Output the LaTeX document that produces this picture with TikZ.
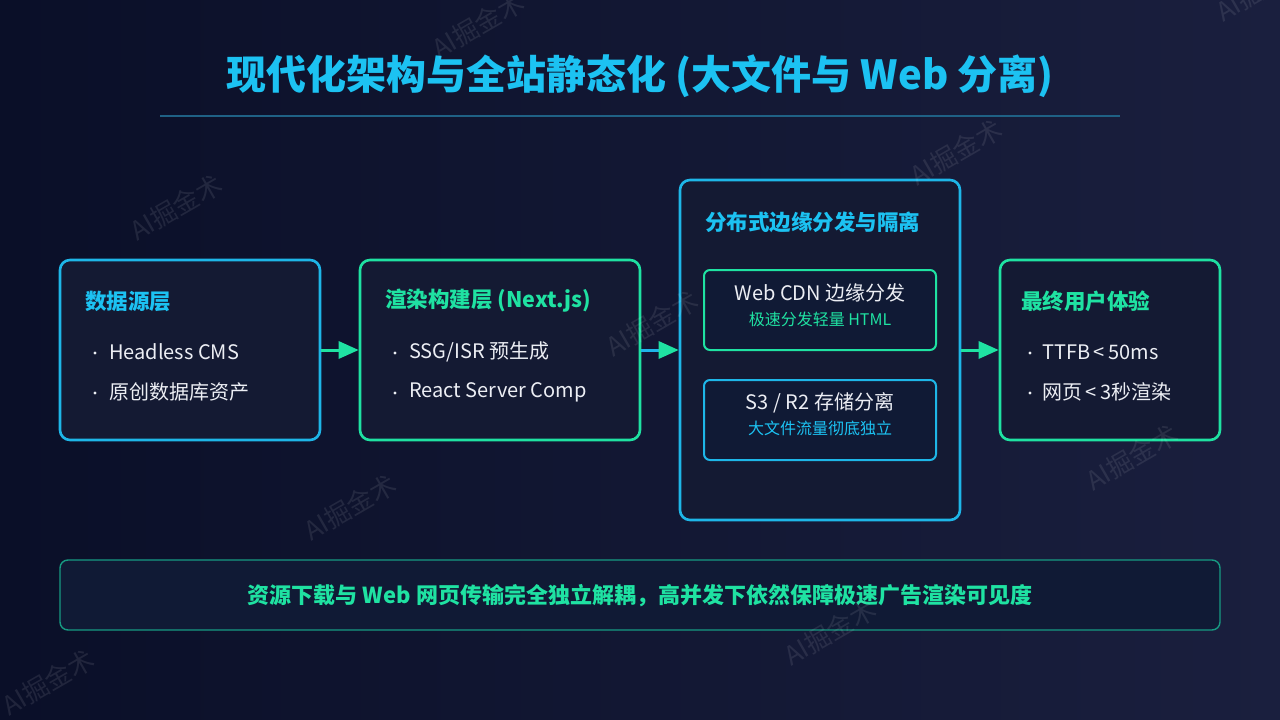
\documentclass[tikz,border=0pt]{standalone}
\usepackage{fontspec}
\setmainfont{Noto Sans CJK SC}
\usetikzlibrary{arrows.meta}
\definecolor{bgA}{HTML}{0A0F28}
\definecolor{bgB}{HTML}{1A1F3E}
\definecolor{cyanc}{HTML}{1CC2F2}
\definecolor{boxcyan}{HTML}{1EB6E8}
\definecolor{greenc}{HTML}{1FE2A2}
\definecolor{boxfill}{HTML}{141A33}
\definecolor{innerfill}{HTML}{101A35}
\definecolor{txtc}{HTML}{ECEEF4}
\definecolor{rulec}{HTML}{1F6185}
\definecolor{bannerline}{HTML}{179A82}
\tikzset{
  panel/.style={draw, line width=2.6pt, rounded corners=10pt, fill=boxfill},
  innerbox/.style={draw, line width=2pt, rounded corners=6pt, fill=innerfill, minimum width=232pt, minimum height=80pt},
  boxtitle/.style={anchor=west, inner sep=0pt, font=\fontsize{21.5}{25}\selectfont\bfseries},
  itemtxt/.style={anchor=west, inner sep=0pt, text=txtc, font=\fontsize{20}{24}\selectfont},
  bulletdot/.style={circle, fill=txtc, inner sep=0pt, minimum size=3.4pt},
  maintxt/.style={inner sep=0pt, text=txtc, font=\fontsize{20}{24}\selectfont},
  subtxt/.style={inner sep=0pt, font=\fontsize{16}{19}\selectfont},
  flow/.style={line width=3pt, -{Triangle[length=20pt,width=17pt,color=greenc,fill=greenc]}},
  wm/.style={text=white, opacity=0.09, rotate=30, inner sep=0pt, font=\fontsize{26}{30}\selectfont}
}
\begin{document}
\begin{tikzpicture}[x=1pt,y=-1pt]
\useasboundingbox (0,0) rectangle (1280,720);
\shade[left color=bgA, right color=bgB] (0,0) rectangle (1280,720);

% title
\node[inner sep=0pt, text=cyanc, font=\fontsize{40}{46}\selectfont\bfseries] (title) at (640,76) {现代化架构与全站静态化 (大文件与 Web 分离)};
\coordinate (ruleL) at (160,116);
\coordinate (ruleR) at (1120,116);
\draw[rulec, line width=1.6pt] (ruleL) -- (ruleR);

% box 1
\node[panel, draw=boxcyan, minimum width=260pt, minimum height=180pt] (src) at (190,350) {};
\node[boxtitle, text=cyanc] (srcT) at (85,301) {数据源层};
\node[bulletdot] (srcB1) at (95,353) {};
\node[itemtxt] (srcI1) at (109,352) {Headless CMS};
\node[bulletdot] (srcB2) at (95,393) {};
\node[itemtxt] (srcI2) at (109,392) {原创数据库资产};

% box 2
\node[panel, draw=greenc, minimum width=280pt, minimum height=180pt] (build) at (500,350) {};
\node[boxtitle, text=greenc] (buildT) at (385,301) {渲染构建层 (Next.js)};
\node[bulletdot] (buildB1) at (395,353) {};
\node[itemtxt] (buildI1) at (409,352) {SSG/ISR 预生成};
\node[bulletdot] (buildB2) at (395,393) {};
\node[itemtxt] (buildI2) at (409,392) {React Server Comp};

% box 3
\node[panel, draw=boxcyan, minimum width=280pt, minimum height=340pt] (edge) at (820,350) {};
\node[boxtitle, text=cyanc] (edgeT) at (705,222) {分布式边缘分发与隔离};
\node[innerbox, draw=greenc] (cdn) at (820,310) {};
\node[maintxt] (cdnA) at (820,293) {Web CDN 边缘分发};
\node[subtxt, text=greenc] (cdnB) at (820,319) {极速分发轻量 HTML};
\node[innerbox, draw=boxcyan] (s3) at (820,420) {};
\node[maintxt] (s3A) at (820,403) {S3 / R2 存储分离};
\node[subtxt, text=cyanc] (s3B) at (820,428) {大文件流量彻底独立};

% box 4
\node[panel, draw=greenc, minimum width=220pt, minimum height=180pt] (user) at (1110,350) {};
\node[boxtitle, text=greenc] (userT) at (1021,301) {最终用户体验};
\node[bulletdot] (userB1) at (1030,353) {};
\node[itemtxt] (userI1) at (1042,352) {TTFB\hspace{3.5pt}<\hspace{3.5pt}50ms};
\node[bulletdot] (userB2) at (1030,393) {};
\node[itemtxt] (userI2) at (1042,392) {网页\hspace{3.5pt}<\hspace{3.5pt}3秒渲染};

% arrows
\draw[flow, greenc] (src.east) -- (build.west);
\draw[flow, boxcyan] (build.east) -- (edge.west);
\draw[flow, greenc] (edge.east) -- (user.west);

% banner
\node[draw=bannerline, line width=1.4pt, rounded corners=8pt, fill=innerfill, minimum width=1160pt, minimum height=70pt] (banner) at (640,595) {};
\node[inner sep=0pt, text=greenc, font=\fontsize{22}{26}\selectfont\bfseries] (bannerT) at (640,596) {资源下载与 Web 网页传输完全独立解耦，高并发下依然保障极速广告渲染可见度};

% watermarks
\node[wm] (wm1) at (478,25) {AI掘金术};
\node[wm] (wm2) at (176,207) {AI掘金术};
\node[wm] (wm3) at (956,152) {AI掘金术};
\node[wm] (wm4) at (652,323) {AI掘金术};
\node[wm] (wm5) at (350,507) {AI掘金术};
\node[wm] (wm6) at (1132,457) {AI掘金术};
\node[wm] (wm7) at (830,632) {AI掘金术};
\node[wm] (wm8) at (48,682) {AI掘金术};
\node[wm] (wm9) at (1262,-12) {AI掘金术};
\end{tikzpicture}
\end{document}
